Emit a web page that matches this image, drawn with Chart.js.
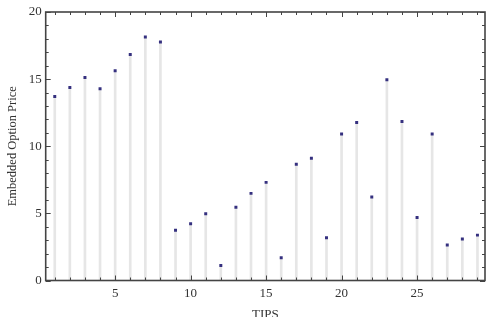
<!DOCTYPE html>
<html>
<head>
<meta charset="utf-8">
<script src="https://cdn.jsdelivr.net/npm/chart.js@4/dist/chart.umd.min.js"></script>
<style>
    html, body { margin: 0; padding: 0; background: #ffffff; }
    #wrap { width: 490px; height: 317px; }
</style>
</head>
<body>
<div id="wrap"><canvas id="tipsChart" width="490" height="317"></canvas></div>
<script>
// data
const tips = [1, 2, 3, 4, 5, 6, 7, 8, 9, 10, 11, 12, 13, 14, 15, 16, 17, 18, 19, 20, 21, 22, 23, 24, 25, 26, 27, 28, 29];
const optionPrice = [13.71, 14.38, 15.12, 14.28, 15.62, 16.84, 18.13, 17.76, 3.75, 4.23, 4.97, 1.12, 5.45, 6.49, 7.31,
    1.69, 8.66, 9.10, 3.18, 10.92, 11.77, 6.22, 14.95, 11.84, 4.70, 10.92, 2.64, 3.09, 3.38];
const xTickLabels = [5, 10, 15, 20, 25];
const yTickLabels = [0, 5, 10, 15, 20];
const xMinorTicks = tips;
const yMinorTicks = [0, 1, 2, 3, 4, 5, 6, 7, 8, 9, 10, 11, 12, 13, 14, 15, 16, 17, 18, 19, 20];

const serif = "'Liberation Serif', 'DejaVu Serif', serif";

//frame with inward ticks, drawn from the scales
const framePlugin = {
    id: 'frame',
    afterDatasetsDraw(chart)
    {
        const ctx = chart.ctx;
        const area = chart.chartArea;
        const xs = chart.scales.x;
        const ys = chart.scales.y;
        ctx.save();
        ctx.strokeStyle = '#444444';
        ctx.lineWidth = 1;
        xMinorTicks.forEach(v => {
            const px = Math.round(xs.getPixelForValue(v)) + 0.5;
            const len = (v % 5 === 0) ? 5 : 3;
            ctx.beginPath();
            ctx.moveTo(px, area.bottom);
            ctx.lineTo(px, area.bottom - len);
            ctx.moveTo(px, area.top);
            ctx.lineTo(px, area.top + len);
            ctx.stroke();
        });
        yMinorTicks.forEach(v => {
            const py = Math.round(ys.getPixelForValue(v)) + 0.5;
            const len = (v % 5 === 0) ? 5 : 3;
            ctx.beginPath();
            ctx.moveTo(area.left, py);
            ctx.lineTo(area.left + len, py);
            ctx.moveTo(area.right, py);
            ctx.lineTo(area.right - len, py);
            ctx.stroke();
        });
        ctx.lineWidth = 1.6;
        ctx.strokeRect(area.left, area.top, area.right - area.left, area.bottom - area.top);
        ctx.restore();
    }
};

const ctx = document.getElementById('tipsChart');
new Chart(ctx,
    {
        type: 'scatter',
        data:
            {
                datasets:
                    [
                        {
                            type: 'scatter',
                            data: tips.map((t, i) => ({x: t, y: optionPrice[i]})),
                            pointStyle: 'rect',
                            pointRadius: 2.1,
                            pointBackgroundColor: '#35307f',
                            pointBorderWidth: 0,
                            borderColor: '#35307f'
                        },
                        {
                            type: 'bar',
                            data: tips.map((t, i) => ({x: t, y: optionPrice[i]})),
                            backgroundColor: '#e6e6e6',
                            barThickness: 2,
                            borderWidth: 0
                        }
                    ]
            },
        options:
            {
                responsive: false,
                animation: false,
                layout: { padding: { left: 0, right: 5, top: 12, bottom: 0 } },
                plugins:
                    {
                        legend: { display: false },
                        tooltip: { enabled: false }
                    },
                scales:
                    {
                        x:
                            {
                                type: 'linear',
                                min: 0.4,
                                max: 29.5,
                                offset: false,
                                grid: { display: false, drawTicks: false },
                                border: { display: false },
                                afterBuildTicks: (scale) => {
                                    scale.ticks = xTickLabels.map(v => ({value: v}));
                                },
                                afterFit: (scale) => { scale.height = 36.5; },
                                ticks:
                                    {
                                        color: '#333333',
                                        padding: 5,
                                        maxRotation: 0,
                                        font: { family: serif, size: 13 }
                                    },
                                title:
                                    {
                                        display: true,
                                        text: 'TIPS',
                                        color: '#333333',
                                        padding: { top: 0, bottom: -5 },
                                        font: { family: serif, size: 13 }
                                    }
                            },
                        y:
                            {
                                min: 0,
                                max: 20,
                                grid: { display: false, drawTicks: false },
                                border: { display: false },
                                afterBuildTicks: (scale) => {
                                    scale.ticks = yTickLabels.map(v => ({value: v}));
                                },
                                afterFit: (scale) => { scale.width = 45.7; },
                                ticks:
                                    {
                                        color: '#333333',
                                        padding: 4,
                                        font: { family: serif, size: 13 }
                                    },
                                title:
                                    {
                                        display: true,
                                        text: 'Embedded Option Price',
                                        color: '#333333',
                                        padding: { top: 5, bottom: 0 },
                                        font: { family: serif, size: 12.5 }
                                    }
                            }
                    }
            },
        plugins: [framePlugin]
    });
</script>
</body>
</html>
